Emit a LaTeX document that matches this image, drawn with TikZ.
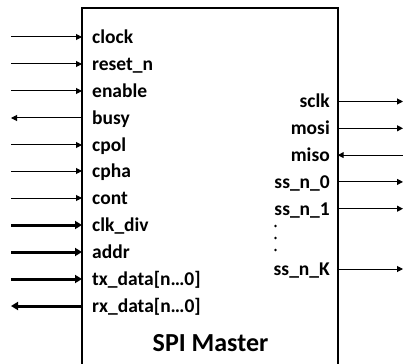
\documentclass[tikz,border=0pt]{standalone}
\usepackage{fontspec}
\setmainfont{Carlito}
\usetikzlibrary{arrows.meta}
\begin{document}
\begin{tikzpicture}[x=1pt,y=-1pt,
  sig/.style={line width=1pt,-{Triangle[length=6pt,width=6pt]}},
  bus/.style={line width=3pt,-{Triangle[length=7pt,width=8pt]}},
  lbl/.style={font=\fontsize{19.5}{22}\selectfont\bfseries,inner sep=0pt},
  box/.style={draw,line width=2pt}]
\useasboundingbox (0,0) rectangle (403,363);
\draw[box] (82,372) -- (82,8.3) -- (337.7,8.3) -- (337.7,372);
% left side coordinates
\coordinate (L0) at (11,37);   \coordinate (B0) at (82,37);
\coordinate (L1) at (11,64);   \coordinate (B1) at (82,64);
\coordinate (L2) at (11,91);   \coordinate (B2) at (82,91);
\coordinate (L3) at (11,118);  \coordinate (B3) at (82,118);
\coordinate (L4) at (11,145);  \coordinate (B4) at (82,145);
\coordinate (L5) at (11,171);  \coordinate (B5) at (82,171);
\coordinate (L6) at (11,198);  \coordinate (B6) at (82,198);
\coordinate (L7) at (11,225);  \coordinate (B7) at (82,225);
\coordinate (L8) at (11,252);  \coordinate (B8) at (82,252);
\coordinate (L9) at (11,279);  \coordinate (B9) at (82,279);
\coordinate (L10) at (11,306); \coordinate (B10) at (82,306);
% left labels
\node[lbl,anchor=base west] (T0) at (92,43.5) {clock};
\node[lbl,anchor=base west] (T1) at (92,70.5) {reset\_n};
\node[lbl,anchor=base west] (T2) at (92,97.5) {enable};
\node[lbl,anchor=base west] (T3) at (92,124.5) {busy};
\node[lbl,anchor=base west] (T4) at (92,151.5) {cpol};
\node[lbl,anchor=base west] (T5) at (92,177.5) {cpha};
\node[lbl,anchor=base west] (T6) at (92,204.5) {cont};
\node[lbl,anchor=base west] (T7) at (92,231.5) {clk\_div};
\node[lbl,anchor=base west] (T8) at (92,258.5) {addr};
\node[lbl,anchor=base west] (T9) at (92,285.5) {tx\_data[n…0]};
\node[lbl,anchor=base west] (T10) at (92,312.5) {rx\_data[n…0]};
% left arrows
\draw[sig] (L0) -- (B0);
\draw[sig] (L1) -- (B1);
\draw[sig] (L2) -- (B2);
\draw[sig] (B3) -- (L3);
\draw[sig] (L4) -- (B4);
\draw[sig] (L5) -- (B5);
\draw[sig] (L6) -- (B6);
\draw[bus] (L7) -- (B7);
\draw[bus] (L8) -- (B8);
\draw[bus] (L9) -- (B9);
\draw[bus] (B10) -- (L10);
% right side
\coordinate (E0) at (337.7,101.5); \coordinate (R0) at (403,101.5);
\coordinate (E1) at (337.7,128.3); \coordinate (R1) at (403,128.3);
\coordinate (E2) at (337.7,155.1); \coordinate (R2) at (403,155.1);
\coordinate (E3) at (337.7,181.9); \coordinate (R3) at (403,181.9);
\coordinate (E4) at (337.7,208.7); \coordinate (R4) at (403,208.7);
\coordinate (E5) at (337.7,269);   \coordinate (R5) at (403,269);
\node[lbl,anchor=base east] (S0) at (330,108) {sclk};
\node[lbl,anchor=base east] (S1) at (330,134.8) {mosi};
\node[lbl,anchor=base east] (S2) at (330,161.6) {miso};
\node[lbl,anchor=base east] (S3) at (330,188.4) {ss\_n\_0};
\node[lbl,anchor=base east] (S4) at (330,215.2) {ss\_n\_1};
\node[lbl,anchor=base east] (S5) at (330,275.5) {ss\_n\_K};
\draw[sig] (E0) -- (R0);
\draw[sig] (E1) -- (R1);
\draw[sig] (R2) -- (E2);
\draw[sig] (E3) -- (R3);
\draw[sig] (E4) -- (R4);
\draw[sig] (E5) -- (R5);
\fill (275.5,226) circle (1.3pt);
\fill (275.5,238) circle (1.3pt);
\fill (275.5,250) circle (1.3pt);
\node[font=\fontsize{26}{29}\selectfont\bfseries,inner sep=0pt,anchor=base] (title) at (210.5,351) {SPI Master};
\end{tikzpicture}
\end{document}
